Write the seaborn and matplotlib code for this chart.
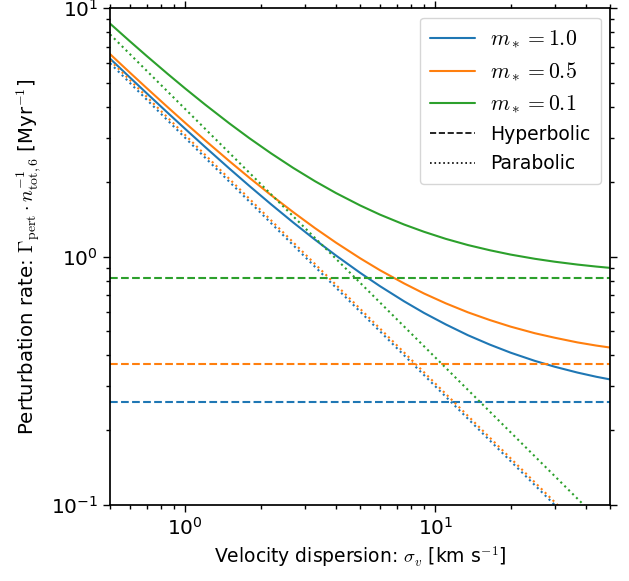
import matplotlib
matplotlib.use("Agg")
import matplotlib.pyplot as plt
from matplotlib.lines import Line2D
import seaborn as sns
import pandas as pd

# Stellar masses and their colours
masses = ["1.0", "0.5", "0.1"]
colors = ["#1f77b4", "#ff7f0e", "#2ca02c"]

# Velocity dispersion samples [km/s]
sigma = [0.5, 0.6, 0.7, 0.85, 1.0, 1.2, 1.5, 1.8, 2.2, 2.7, 3.3, 4.0, 5.0,
         6.0, 7.5, 9.0, 11.0, 13.5, 16.5, 20.0, 25.0, 30.0, 37.0, 44.0, 50.0]

# Total perturbation rate [1/Myr]
total_m10 = [6.26, 5.26, 4.546, 3.789, 3.26, 2.76, 2.26, 1.927, 1.624, 1.371, 1.169, 1.01, 0.86,
             0.76, 0.66, 0.593, 0.533, 0.482, 0.442, 0.41, 0.38, 0.36, 0.341, 0.328, 0.32]
total_m05 = [6.528, 5.501, 4.768, 3.992, 3.448, 2.935, 2.421, 2.079, 1.768, 1.509, 1.301, 1.138, 0.984,
             0.881, 0.779, 0.710, 0.648, 0.596, 0.555, 0.522, 0.491, 0.471, 0.451, 0.438, 0.430]
total_m01 = [8.662, 7.355, 6.422, 5.434, 4.742, 4.089, 3.435, 2.999, 2.604, 2.274, 2.010, 1.802, 1.606,
             1.475, 1.345, 1.258, 1.178, 1.112, 1.060, 1.018, 0.979, 0.953, 0.928, 0.911, 0.900]

# Hyperbolic contribution (independent of sigma)
sigma_ends = [0.5, 50.0]
hyper_m10 = [0.26, 0.26]
hyper_m05 = [0.368, 0.368]
hyper_m01 = [0.822, 0.822]

# Parabolic contribution (power law, straight in log-log)
para_m10 = [6.0, 0.060]
para_m05 = [6.16, 0.0616]
para_m01 = [7.84, 0.0784]

totals = [total_m10, total_m05, total_m01]
hypers = [hyper_m10, hyper_m05, hyper_m01]
paras = [para_m10, para_m05, para_m01]

sns.set_style("ticks")
plt.rcParams["font.family"] = ["DejaVu Sans"]
plt.rcParams["mathtext.fontset"] = "cm"
plt.rcParams["font.size"] = 13
for key in ["text.color", "axes.labelcolor", "xtick.color", "ytick.color", "axes.edgecolor"]:
    plt.rcParams[key] = "black"

fig = plt.figure(figsize=(6.29, 5.81), dpi=100)
ax = fig.add_axes([0.175, 0.131, 0.795, 0.855])

for m, c, tot, hyp, par in zip(masses, colors, totals, hypers, paras):
    sns.lineplot(data=pd.DataFrame({"s": sigma, "r": tot}), x="s", y="r",
                 ax=ax, color=c, lw=1.5, linestyle="-", estimator=None, sort=False)
    sns.lineplot(data=pd.DataFrame({"s": sigma_ends, "r": hyp}), x="s", y="r",
                 ax=ax, color=c, lw=1.5, linestyle="--", estimator=None, sort=False)
    sns.lineplot(data=pd.DataFrame({"s": sigma_ends, "r": par}), x="s", y="r",
                 ax=ax, color=c, lw=1.5, linestyle=":", estimator=None, sort=False)

ax.set_xscale("log")
ax.set_yscale("log")
ax.set_xlim(0.5, 50)
ax.set_ylim(0.1, 10)

ax.set_xlabel(r"Velocity dispersion: $\sigma_v$ [km s$^{-1}$]", fontsize=13.5)
ax.set_ylabel(r"Perturbation rate: $\Gamma_{\rm pert}\cdot n_{\rm tot,6}^{-1}$ [Myr$^{-1}$]",
              fontsize=14.2, labelpad=6)

for sp in ax.spines.values():
    sp.set_linewidth(1.25)
    sp.set_visible(True)
ax.tick_params(which="both", direction="out", top=True, right=True, width=1.0)
ax.tick_params(which="major", length=5, labelsize=14.5)
ax.tick_params(which="minor", length=3)

handles = [Line2D([], [], color=c, lw=1.5, label=rf"$m_* = {m}$") for m, c in zip(masses, colors)]
handles.append(Line2D([], [], color="black", lw=1.2, ls="--", label="Hyperbolic"))
handles.append(Line2D([], [], color="black", lw=1.2, ls=":", label="Parabolic"))
leg = ax.legend(handles=handles, loc="upper right", fontsize=13.5, frameon=True,
                handlelength=2.4, borderpad=0.55, labelspacing=0.55)
for txt in leg.get_texts()[:3]:
    txt.set_fontsize(15.7)

fig.savefig("out.png", dpi=100)
